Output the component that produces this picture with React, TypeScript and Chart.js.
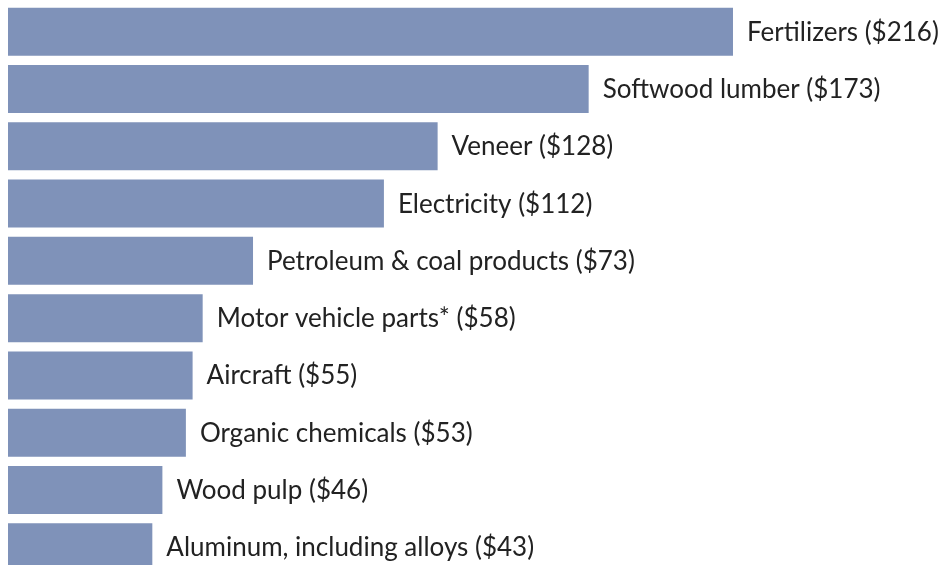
import React, { useEffect, useRef } from "react";
import { Chart, registerables } from "chart.js";

Chart.register(...registerables);

const categories = [
  "Fertilizers",
  "Softwood lumber",
  "Veneer",
  "Electricity",
  "Petroleum & coal products",
  "Motor vehicle parts*",
  "Aircraft",
  "Organic chemicals",
  "Wood pulp",
  "Aluminum, including alloys",
];
const values = [216, 173, 128, 112, 73, 58, 55, 53, 46, 43];
const valueLabels = ["$216", "$173", "$128", "$112", "$73", "$58", "$55", "$53", "$46", "$43"];

const BAR_COLOR = "#7f92b9";
const TEXT_COLOR = "#222222";
const FONT = '26px Lato, sans-serif';

const labelPlugin = {
  id: "endLabels",
  afterDatasetsDraw(chart: any) {
    const ctx = chart.ctx;
    const meta = chart.getDatasetMeta(0);
    ctx.save();
    ctx.font = FONT;
    ctx.fillStyle = TEXT_COLOR;
    ctx.textAlign = "left";
    ctx.textBaseline = "alphabetic";
    meta.data.forEach((bar: any, i: number) => {
      const text = `${categories[i]} (${valueLabels[i]})`;
      ctx.fillText(text, bar.x + 14, bar.y + 9);
    });
    ctx.restore();
  },
};

export default function App() {
  const ref = useRef<HTMLCanvasElement | null>(null);
  useEffect(() => {
    if (!ref.current) return;
    const chart = new Chart(ref.current, {
      type: "bar",
      data: {
        labels: categories,
        datasets: [
          {
            data: values,
            backgroundColor: BAR_COLOR,
            borderWidth: 0,
            categoryPercentage: 1,
            barPercentage: 0.837,
          },
        ],
      },
      options: {
        indexAxis: "y",
        responsive: false,
        animation: false,
        devicePixelRatio: 1,
        layout: { padding: 0 },
        plugins: {
          legend: { display: false },
          tooltip: { enabled: false },
          title: { display: false },
        },
        scales: {
          x: { display: false, min: 0, max: 278.57, grid: { display: false } },
          y: { display: false, grid: { display: false } },
        },
      },
      plugins: [labelPlugin],
    });
    return () => chart.destroy();
  }, []);

  return (
    <div
      style={{
        position: "fixed",
        left: 0,
        top: 0,
        width: 943,
        height: 565,
        overflow: "hidden",
        background: "#ffffff",
      }}
    >
      <canvas
        ref={ref}
        width={935}
        height={573}
        style={{ position: "absolute", left: 8, top: 3.33, width: 935, height: 573 }}
      />
    </div>
  );
}
